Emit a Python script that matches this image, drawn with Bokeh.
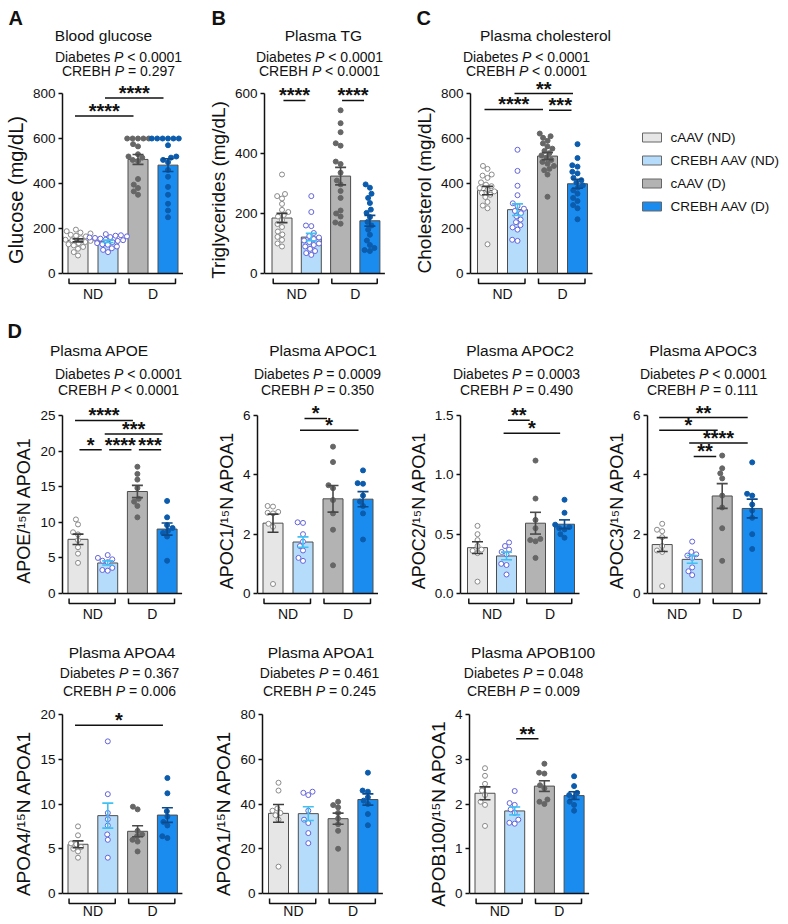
import math
import numpy as np
from bokeh.plotting import figure
from bokeh.layouts import row, column
from bokeh.models import Range1d, Label, FixedTicker, PrintfTickFormatter
from bokeh.core.properties import value
from bokeh.embed import file_html
from bokeh.resources import INLINE

FONT = "Liberation Sans"
INK = "#111111"

# ---------------- categories / styles ----------------
group_labels = ["cAAV (ND)", "CREBH AAV (ND)", "cAAV (D)", "CREBH AAV (D)"]
diet_labels = ["ND", "D"]
bar_fill = ["#e6e6e6", "#b5dcfb", "#b3b3b3", "#1a8cf0"]
bar_line = "#4d4d4d"
pt_fill = ["#ffffff", "#ffffff", "#666666", "#0b5cad"]
pt_line = ["#8a8a8a", "#6464dc", "#666666", "#0b5cad"]
err_color = ["#3c3c3c", "#3fc1f2", "#4a4a4a", "#0d4a8a"]

# ---------------- data ----------------
glucose = [
    [195, 188, 182, 178, 172, 168, 165, 160, 157, 153, 150, 148, 145, 140, 135, 130, 125, 118, 110, 95, 80],
    [175, 170, 168, 165, 162, 160, 158, 155, 150, 148, 145, 140, 135, 130, 128, 120, 112, 105, 95],
    [600, 600, 600, 600, 600, 575, 565, 530, 520, 515, 505, 500, 420, 395, 380, 365, 350],
    [600, 600, 600, 600, 600, 600, 570, 520, 515, 505, 495, 460, 430, 385, 350, 310, 280, 250],
]
tg = [
    [330, 265, 258, 250, 232, 212, 205, 195, 190, 178, 165, 155, 140, 130, 122, 112, 100, 90],
    [258, 205, 160, 158, 135, 125, 120, 115, 110, 105, 100, 95, 90, 82, 75, 68, 62],
    [544, 501, 471, 434, 426, 373, 365, 336, 310, 297, 275, 252, 210, 200, 190, 170, 166],
    [297, 286, 266, 252, 235, 213, 202, 188, 172, 160, 146, 129, 110, 95, 85, 78, 75],
]
chol = [
    [478, 465, 440, 435, 425, 405, 395, 388, 380, 372, 365, 358, 350, 340, 318, 302, 290, 130],
    [550, 456, 390, 348, 312, 300, 288, 278, 268, 255, 240, 228, 215, 205, 195, 150, 145],
    [622, 610, 603, 590, 578, 565, 555, 545, 535, 525, 515, 505, 496, 488, 478, 465, 459, 440, 341],
    [575, 513, 481, 475, 452, 445, 425, 415, 405, 392, 382, 370, 355, 336, 322, 304, 290, 241],
]
apoe = [
    [10.4, 9.7, 8.6, 8.3, 7.5, 6.5, 5.6, 4.3],
    [5.4, 5.0, 4.8, 4.6, 4.4, 3.6, 3.3, 3.2],
    [17.8, 16.8, 16.0, 14.8, 13.3, 12.9, 12.3, 10.7],
    [13.0, 10.7, 9.6, 9.2, 8.8, 8.5, 8.0, 4.6],
]
apoc1 = [
    [2.95, 2.93, 2.75, 2.72, 2.70, 2.35, 2.25, 0.32],
    [2.40, 2.38, 2.00, 1.75, 1.60, 1.45, 1.20, 1.10],
    [4.95, 4.43, 3.65, 3.55, 3.15, 2.70, 2.15, 0.95],
    [4.15, 3.72, 3.70, 3.30, 3.10, 2.95, 2.70, 1.82],
]
apoc2 = [
    [0.57, 0.50, 0.45, 0.40, 0.37, 0.36, 0.34, 0.10],
    [0.43, 0.40, 0.37, 0.35, 0.33, 0.25, 0.24, 0.16],
    [1.12, 0.80, 0.62, 0.55, 0.46, 0.45, 0.44, 0.30],
    [0.79, 0.68, 0.58, 0.55, 0.56, 0.54, 0.50, 0.47],
]
apoc3 = [
    [2.35, 2.15, 2.10, 1.90, 1.60, 1.45, 1.40, 0.25],
    [1.75, 1.40, 1.32, 1.28, 1.20, 0.88, 0.75, 0.62],
    [4.65, 4.22, 4.05, 3.88, 3.30, 2.90, 2.20, 1.10],
    [4.42, 3.36, 3.30, 3.00, 2.80, 2.55, 2.00, 1.50],
]
apoa4 = [
    [7.5, 6.5, 5.6, 5.5, 5.2, 5.0, 4.7, 4.0],
    [17.0, 11.1, 9.0, 8.3, 7.6, 6.6, 6.0, 4.0],
    [9.7, 9.4, 7.0, 6.6, 6.4, 6.0, 5.8, 4.7],
    [12.9, 11.2, 9.2, 8.6, 8.0, 7.6, 6.4, 6.2],
]
apoa1 = [
    [49.5, 46.0, 38.0, 37.0, 36.0, 35.0, 33.0, 12.0],
    [45.5, 45.0, 44.0, 37.0, 33.0, 31.5, 27.0, 22.5],
    [41.0, 39.5, 38.5, 36.0, 33.5, 31.0, 28.0, 20.0],
    [54.0, 46.0, 45.5, 43.0, 41.5, 40.0, 35.5, 30.5],
]
apob100 = [
    [2.80, 2.63, 2.45, 2.30, 2.20, 2.05, 1.98, 1.51],
    [2.29, 2.02, 1.98, 1.88, 1.80, 1.65, 1.58, 1.56],
    [2.90, 2.70, 2.68, 2.42, 2.35, 2.10, 2.05, 2.00],
    [2.62, 2.40, 2.25, 2.20, 2.15, 2.05, 1.98, 1.85],
]

# significance brackets: (from group, to group, y value, stars)
glucose_sig = [(1, 3, 700, "****"), (2, 4, 780, "****")]
tg_sig = [(1, 2, 577, "****"), (3, 4, 577, "****")]
chol_sig = [(1, 3, 729, "****"), (2, 4, 800, "**"), (3, 4, 726, "***")]
apoe_sig = [(1, 3, 24.3, "****"), (2, 4, 22.4, "***"), (1, 2, 20.2, "*"), (2, 3, 20.2, "****"), (3, 4, 20.2, "***")]
apoc1_sig = [(2, 3, 5.9, "*"), (2, 4, 5.5, "*")]
apoc2_sig = [(2, 3, 1.46, "**"), (2, 4, 1.35, "*")]
apoc3_sig = [(1, 4, 5.93, "**"), (1, 3, 5.5, "*"), (2, 4, 5.07, "****"), (2, 3, 4.62, "**")]
apoa4_sig = [(1, 4, 18.8, "*")]
apoa1_sig = []
apob100_sig = [(2, 3, 3.46, "**")]

# two-way ANOVA texts (Diabetes, CREBH)
glucose_p = ("< 0.0001", "= 0.297")
tg_p = ("< 0.0001", "< 0.0001")
chol_p = ("< 0.0001", "< 0.0001")
apoe_p = ("< 0.0001", "< 0.0001")
apoc1_p = ("= 0.0009", "= 0.350")
apoc2_p = ("= 0.0003", "= 0.490")
apoc3_p = ("< 0.0001", "= 0.111")
apoa4_p = ("= 0.367", "= 0.006")
apoa1_p = ("= 0.461", "= 0.245")
apob100_p = ("= 0.048", "= 0.009")

# y ticks
glucose_ticks = [0, 200, 400, 600, 800]
tg_ticks = [0, 200, 400, 600]
chol_ticks = [0, 200, 400, 600, 800]
apoe_ticks = [0, 5, 10, 15, 20, 25]
apoc1_ticks = [0, 2, 4, 6]
apoc2_ticks = [0, 0.5, 1.0, 1.5]
apoc3_ticks = [0, 2, 4, 6]
apoa4_ticks = [0, 5, 10, 15, 20]
apoa1_ticks = [0, 20, 40, 60, 80]
apob100_ticks = [0, 1, 2, 3, 4]

# ---------------- helpers ----------------
AW = {' ': 278, '.': 278, '<': 584, '=': 584, 'D': 722, 'i': 222, 'a': 556, 'b': 556,
      'e': 556, 't': 278, 's': 500, 'C': 722, 'R': 722, 'E': 667, 'B': 667, 'H': 722, 'P': 667}


def tw(s, size):
    return sum(AW.get(ch, 556) for ch in s) * size / 1000.0


class Geo:
    def __init__(self, fig_left, width, row_top, row_h, axis_x, c1, sp, ytop, y0, ymax):
        self.width, self.row_top, self.row_h = width, row_top, row_h
        self.axis_x, self.sp = axis_x, sp
        self.L = axis_x - fig_left
        fw = width - self.L
        self.x_start = 1 - (c1 - axis_x) / sp
        self.x_end = self.x_start + fw / sp
        self.s = (y0 - ytop) / ymax
        self.y_end = ymax + (ytop - row_top) / self.s
        self.y_start = -(row_top + row_h - y0) / self.s


def swarm(vals, s, d=5.4):
    order = sorted(range(len(vals)), key=lambda k: vals[k])
    placed = []
    xs = [0.0] * len(vals)
    for k in order:
        y = vals[k] * s
        conf = [(px, py) for (px, py) in placed if abs(py - y) < d]
        cands = [0.0]
        for px, py in conf:
            dx = math.sqrt(max(d * d - (py - y) ** 2, 0))
            cands += [px + dx, px - dx]
        cands.sort(key=lambda c: (abs(c), c))
        for c in cands:
            if all((c - px) ** 2 + (y - py) ** 2 >= d * d - 1e-6 for px, py in conf):
                xs[k] = c
                break
        placed.append((xs[k], y))
    return xs


def lab(fig, x, y, text, size, align="center", baseline="middle", style="normal", yoff=0):
    fig.add_layout(Label(x=x, y=y, text=text, text_font=FONT, text_font_size=f"{size}px",
                         text_font_style=style, text_color=INK, text_align=align,
                         text_baseline=baseline, y_offset=yoff))


def bare(fig):
    fig.min_border_left = 0
    fig.min_border_right = 0
    fig.min_border_top = 0
    fig.min_border_bottom = 0
    fig.outline_line_color = None
    fig.grid.visible = False
    fig.background_fill_color = "white"
    fig.border_fill_color = "white"


def header(width, top, h):
    hf = figure(width=width, height=h, x_range=Range1d(0, width), y_range=Range1d(top + h, top),
                output_backend="svg", toolbar_location=None, tools="",
                x_axis_location=None, y_axis_location=None)
    bare(hf)
    return hf


def head_texts(hf, title, tcx, ty, pv, pcx, py1, py2, letter=None):
    lab(hf, tcx, ty, title, 15.5)
    fs = 14
    for name, rest, yy in [("Diabetes", pv[0], py1), ("CREBH", pv[1], py2)]:
        w1 = tw(name + " ", fs)
        w2 = tw("P", fs)
        w3 = tw(" " + rest, fs)
        x0 = pcx - (w1 + w2 + w3) / 2
        lab(hf, x0, yy, name, fs, align="left")
        lab(hf, x0 + w1, yy, "P", fs, align="left", style="italic")
        lab(hf, x0 + w1 + w2 + tw(" ", fs), yy, rest, fs, align="left")
    if letter:
        lab(hf, letter[1], letter[2], letter[0], 20, align="left", style="bold")


def panel(G, data, sig, ticks, fmt, ylabel, ylsize, dlab=20):
    ymax = ticks[-1]
    fig = figure(width=G.width, height=G.row_h, x_range=Range1d(G.x_start, G.x_end),
                 y_range=Range1d(G.y_start, G.y_end), output_backend="svg", toolbar_location=None,
                 tools="", x_axis_location=None, y_axis_location="left")
    bare(fig)
    fig.min_border_left = G.L

    ax = fig.yaxis[0]
    ax.bounds = (0, ymax)
    ax.ticker = FixedTicker(ticks=ticks)
    if fmt:
        ax.formatter = PrintfTickFormatter(format=fmt)
    ax.axis_label = ylabel
    ax.axis_label_text_font = FONT
    ax.axis_label_text_font_size = f"{ylsize}px"
    ax.axis_label_text_font_style = "normal"
    ax.axis_label_text_color = INK
    ax.axis_label_standoff = 3
    ax.major_label_text_font = FONT
    ax.major_label_text_font_size = "13.5px"
    ax.major_label_text_color = INK
    ax.major_label_standoff = 3
    ax.axis_line_width = 1.5
    ax.axis_line_color = INK
    ax.major_tick_line_width = 1.5
    ax.major_tick_line_color = INK
    ax.major_tick_out = 4
    ax.major_tick_in = 0
    ax.minor_tick_line_color = None

    xs = [1, 2, 3, 4]
    means = [float(np.mean(g)) for g in data]
    sems = [float(np.std(g, ddof=1) / math.sqrt(len(g))) for g in data]
    fig.vbar(x=xs, top=means, bottom=0, width=20 / G.sp, fill_color=bar_fill,
             line_color=bar_line, line_width=1)
    for i, vals in enumerate(data):
        offs = swarm(vals, G.s)
        fig.scatter(x=[i + 1 + o / G.sp for o in offs], y=vals, marker="circle", size=5,
                    fill_color=pt_fill[i], line_color=pt_line[i], line_width=1)
    lo = [m - e for m, e in zip(means, sems)]
    hi = [m + e for m, e in zip(means, sems)]
    cap = 5.5 / G.sp
    fig.segment(x0=xs, y0=lo, x1=xs, y1=hi, line_color=err_color, line_width=1.6)
    fig.segment(x0=[x - cap for x in xs], y0=hi, x1=[x + cap for x in xs], y1=hi,
                line_color=err_color, line_width=1.6)
    fig.segment(x0=[x - cap for x in xs], y0=lo, x1=[x + cap for x in xs], y1=lo,
                line_color=err_color, line_width=1.6)

    # x baseline
    fig.segment(x0=[G.x_start], y0=[0], x1=[4 + 15 / G.sp], y1=[0], line_color=INK, line_width=1.5)

    # diet brackets
    for k, (a, b) in enumerate([(1, 2), (3, 4)]):
        xa, xb = a - 0.3, b + 0.25
        y1, y2 = -5 / G.s, -10 / G.s
        fig.line(x=[xa, xa, xb, xb], y=[y1, y2, y2, y1], line_color=INK, line_width=1.5)
        lab(fig, (a + b) / 2, -dlab / G.s, diet_labels[k], 14)

    # significance
    for a, b, yv, stars in sig:
        if b - a == 1:
            xa, xb = a + 0.05, b - 0.2
        else:
            xa, xb = a - 0.1, b - 0.15
        fig.segment(x0=[xa], y0=[yv], x1=[xb], y1=[yv], line_color=INK, line_width=1.5)
        lab(fig, (xa + xb) / 2, yv, stars, 20, baseline="alphabetic", style="bold", yoff=5)
    return fig


# ---------------- row 1 ----------------
H1T, H1H = 0, 79
R1T, R1H = 79, 221
h1 = header(788, H1T, H1H)
head_texts(h1, "Blood glucose", 103, 35, glucose_p, 118, 56, 70.5, ("A", 8, 17))
head_texts(h1, "Plasma TG", 323, 35, tg_p, 319, 56, 70.5, ("B", 211, 17))
head_texts(h1, "Plasma cholesterol", 545, 35, chol_p, 526, 56, 70.5, ("C", 416, 17))

gA = Geo(0, 195, R1T, R1H, 62, 77.5, 30, 93, 273, 800)
gB = Geo(195, 195, R1T, R1H, 264, 281.5, 29.3, 93, 273, 600)
gC = Geo(390, 230, R1T, R1H, 470, 487, 30, 93, 273, 800)
pA = panel(gA, glucose, glucose_sig, glucose_ticks, None, "Glucose (mg/dL)", 20)
pB = panel(gB, tg, tg_sig, tg_ticks, None, "Triglycerides (mg/dL)", 19)
pC = panel(gC, chol, chol_sig, chol_ticks, None, "Cholesterol (mg/dL)", 19)

lg = figure(width=168, height=R1H, x_range=Range1d(620, 788), y_range=Range1d(R1T + R1H, R1T),
            output_backend="svg", toolbar_location=None, tools="",
            x_axis_location=None, y_axis_location=None)
bare(lg)
legend_rows = [137, 160, 183, 206]
lg.rect(x=651.5, y=legend_rows, width=19, height=9, fill_color=bar_fill, line_color="#666666",
        line_width=1)
lg.text(x=670, y=legend_rows, text=group_labels, text_baseline="middle",
        text_font=value(FONT), text_font_size="13.5px", text_color=INK)

# ---------------- row 2 ----------------
H2T, H2H = 300, 100
R2T, R2H = 400, 220
h2 = header(788, H2T, H2H)
head_texts(h2, "Plasma APOE", 99, 350, apoe_p, 118, 373, 389, ("D", 7, 330))
head_texts(h2, "Plasma APOC1", 323, 350, apoc1_p, 317, 373, 389)
head_texts(h2, "Plasma APOC2", 520, 350, apoc2_p, 516, 373, 389)
head_texts(h2, "Plasma APOC3", 703, 350, apoc3_p, 703, 373, 389)

sup = "\u00b9\u2075"
g1 = Geo(0, 195, R2T, R2H, 62, 77.5, 29.7, 415, 593, 25)
g2 = Geo(195, 195, R2T, R2H, 257, 272.5, 30, 415, 593, 6)
g3 = Geo(390, 195, R2T, R2H, 460, 477, 29, 415, 593, 1.5)
g4 = Geo(585, 203, R2T, R2H, 647, 661.7, 30, 415, 593, 6)
d1 = panel(g1, apoe, apoe_sig, apoe_ticks, None, f"APOE/{sup}N APOA1", 18)
d2 = panel(g2, apoc1, apoc1_sig, apoc1_ticks, None, f"APOC1/{sup}N APOA1", 18)
d3 = panel(g3, apoc2, apoc2_sig, apoc2_ticks, "%.1f", f"APOC2/{sup}N APOA1", 18)
d4 = panel(g4, apoc3, apoc3_sig, apoc3_ticks, None, f"APOC3/{sup}N APOA1", 18)

# ---------------- row 3 ----------------
H3T, H3H = 620, 82
R3T, R3H = 702, 222
h3 = header(788, H3T, H3H)
head_texts(h3, "Plasma APOA4", 122, 652, apoa4_p, 119, 672, 690)
head_texts(h3, "Plasma APOA1", 321, 652, apoa1_p, 319, 672, 690)
head_texts(h3, "Plasma APOB100", 533, 652, apob100_p, 523, 672, 690)

g5 = Geo(0, 195, R3T, R3H, 62, 77.5, 29.8, 714, 893, 20)
g6 = Geo(195, 195, R3T, R3H, 262, 278, 29.8, 714, 893, 80)
g7 = Geo(390, 210, R3T, R3H, 469, 484.5, 29.7, 714, 893, 4)
d5 = panel(g5, apoa4, apoa4_sig, apoa4_ticks, None, f"APOA4/{sup}N APOA1", 19, dlab=17)
d6 = panel(g6, apoa1, apoa1_sig, apoa1_ticks, None, f"APOA1/{sup}N APOA1", 19, dlab=17)
d7 = panel(g7, apob100, apob100_sig, apob100_ticks, None, f"APOB100/{sup}N APOA1", 19, dlab=17)

layout = column(h1, row(pA, pB, pC, lg, spacing=0),
                h2, row(d1, d2, d3, d4, spacing=0),
                h3, row(d5, d6, d7, spacing=0), spacing=0)

open("out.html", "w").write(file_html(layout, INLINE))
